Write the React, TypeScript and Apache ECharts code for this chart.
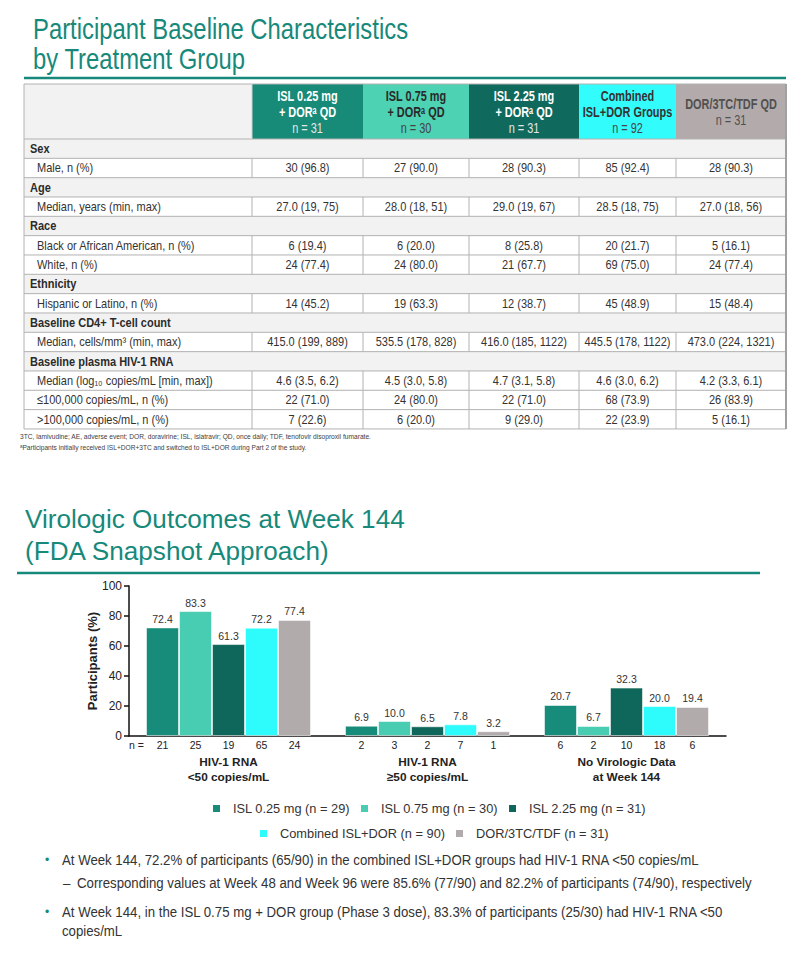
import React, { useEffect, useRef } from "react";
import * as echarts from "echarts";

const FF = "Liberation Sans, Arial, Helvetica, sans-serif";
const TEAL = "#17897a";
const TXT = "#333333";

// ---------- Titles / notes ----------
const title1 = ["Participant Baseline Characteristics", "by Treatment Group"];
const title2 = ["Virologic Outcomes at Week 144", "(FDA Snapshot Approach)"];
const footnotes = [
  "3TC, lamivudine; AE, adverse event; DOR, doravirine; ISL, islatravir; QD, once daily; TDF, tenofovir disoproxil fumarate.",
  "ᵃParticipants initially received ISL+DOR+3TC and switched to ISL+DOR during Part 2 of the study.",
];
const bullet1 = "At Week 144, 72.2% of participants (65/90) in the combined ISL+DOR groups had HIV-1 RNA <50 copies/mL";
const subBullet1 = "Corresponding values at Week 48 and Week 96 were 85.6% (77/90) and 82.2% of participants (74/90), respectively";
const bullet2 = ["At Week 144, in the ISL 0.75 mg + DOR group (Phase 3 dose), 83.3% of participants (25/30) had HIV-1 RNA <50", "copies/mL"];

// ---------- Table data ----------
const headerISL025 = ["ISL 0.25 mg", "+ DORᵃ QD", "n = 31"];
const headerISL075 = ["ISL 0.75 mg", "+ DORᵃ QD", "n = 30"];
const headerISL225 = ["ISL 2.25 mg", "+ DORᵃ QD", "n = 31"];
const headerCombined = ["Combined", "ISL+DOR Groups", "n = 92"];
const headerDOR = ["DOR/3TC/TDF QD", "n = 31"];

const maleN = ["30 (96.8)", "27 (90.0)", "28 (90.3)", "85 (92.4)", "28 (90.3)"];
const ageMedian = ["27.0 (19, 75)", "28.0 (18, 51)", "29.0 (19, 67)", "28.5 (18, 75)", "27.0 (18, 56)"];
const raceBlack = ["6 (19.4)", "6 (20.0)", "8 (25.8)", "20 (21.7)", "5 (16.1)"];
const raceWhite = ["24 (77.4)", "24 (80.0)", "21 (67.7)", "69 (75.0)", "24 (77.4)"];
const hispanic = ["14 (45.2)", "19 (63.3)", "12 (38.7)", "45 (48.9)", "15 (48.4)"];
const cd4Median = ["415.0 (199, 889)", "535.5 (178, 828)", "416.0 (185, 1122)", "445.5 (178, 1122)", "473.0 (224, 1321)"];
const rnaMedian = ["4.6 (3.5, 6.2)", "4.5 (3.0, 5.8)", "4.7 (3.1, 5.8)", "4.6 (3.0, 6.2)", "4.2 (3.3, 6.1)"];
const rnaLow = ["22 (71.0)", "24 (80.0)", "22 (71.0)", "68 (73.9)", "26 (83.9)"];
const rnaHigh = ["7 (22.6)", "6 (20.0)", "9 (29.0)", "22 (23.9)", "5 (16.1)"];

// ---------- Chart data ----------
const categories = ["HIV-1 RNA\n<50 copies/mL", "HIV-1 RNA\n≥50 copies/mL", "No Virologic Data\nat Week 144"];
const seriesNames = [
  "ISL 0.25 mg (n = 29)",
  "ISL 0.75 mg (n = 30)",
  "ISL 2.25 mg (n = 31)",
  "Combined ISL+DOR (n = 90)",
  "DOR/3TC/TDF (n = 31)",
];
const isl025 = [72.4, 6.9, 20.7];
const isl075 = [83.3, 10.0, 6.7];
const isl225 = [61.3, 6.5, 32.3];
const combined = [72.2, 7.8, 20.0];
const dor = [77.4, 3.2, 19.4];
const isl025N = [21, 2, 6];
const isl075N = [25, 3, 2];
const isl225N = [19, 2, 10];
const combinedN = [65, 7, 18];
const dorN = [24, 1, 6];
const yMin = 0;
const yMax = 100;
const yStep = 20;

const barColors = ["#178c7a", "#48cdb2", "#0f665a", "#2efcfc", "#b2abab"];
const headerFills = ["#178a78", "#4dd2b3", "#0f6a5d", "#33fcfc", "#b3abab"];
const headerBoldColors = ["#ffffff", "#2a2a2a", "#ffffff", "#333333", "#505050"];
const headerNColors = ["#e6e6e6", "#444444", "#e6e6e6", "#444444", "#505050"];

export default function App() {
  const ref = useRef<HTMLDivElement>(null);

  useEffect(() => {
    if (!ref.current) return;
    const chart = echarts.init(ref.current, undefined, { renderer: "svg" });

    const canvas = document.createElement("canvas");
    const ctx = canvas.getContext("2d")!;
    const fontStr = (size: number, weight = "normal") => `${weight} ${size}px ${FF}`;
    const fit = (text: string, font: string, w: number) => {
      ctx.font = font;
      const m = ctx.measureText(text).width;
      return m > 0 ? w / m : 1;
    };

    const els: any[] = [];
    const T = (text: string, x: number, y: number, size: number, o: any = {}) => {
      const font = fontStr(size, o.weight || "normal");
      els.push({
        type: "text",
        x,
        y,
        scaleX: o.sx ?? 1,
        silent: true,
        z: 10,
        style: {
          text,
          font,
          fill: o.color || TXT,
          textAlign: o.align || "left",
          textVerticalAlign: "middle",
          align: o.align || "left",
          verticalAlign: "middle",
        },
      });
    };
    const R = (x: number, y: number, w: number, h: number, fill: string) => {
      els.push({
        type: "rect",
        silent: true,
        z: 1,
        shape: { x, y, width: w, height: h },
        style: { fill },
      });
    };
    const L = (x1: number, y1: number, x2: number, y2: number, stroke: string, lw = 1) => {
      els.push({
        type: "line",
        silent: true,
        z: 5,
        shape: { x1, y1, x2, y2 },
        style: { stroke, lineWidth: lw },
      });
    };

    // ---- Top title ----
    const t1sx = fit(title1[0], fontStr(30), 375);
    T(title1[0], 33, 28, 30, { color: TEAL, sx: t1sx });
    T(title1[1], 33, 58, 30, { color: TEAL, sx: t1sx });
    L(24, 78, 786, 78, TEAL, 2.5);

    // ---- Table ----
    const colX = [24, 252, 363, 469, 579, 676, 786];
    const HT = 84;
    const HB = 139;
    const RH = 19.33;
    const LINE = "#b2b2b2";
    const headers = [headerISL025, headerISL075, headerISL225, headerCombined, headerDOR];
    R(colX[0], HT, colX[1] - colX[0], HB - HT, "#f2f2f2");
    headers.forEach((h, i) => {
      const x0 = colX[i + 1];
      const w = colX[i + 2] - x0;
      R(x0, HT, w, HB - HT, headerFills[i]);
      const cx = x0 + w / 2;
      const ys = h.length === 3 ? [97, 113, 129] : [105, 121];
      h.forEach((line, k) => {
        const isN = k === h.length - 1;
        T(line, cx, ys[k], 14, {
          weight: isN ? "normal" : "bold",
          color: isN ? headerNColors[i] : headerBoldColors[i],
          align: "center",
          sx: 0.78,
        });
      });
    });

    const tableRows: any[] = [
      { section: "Sex" },
      { label: "Male, n (%)", values: maleN },
      { section: "Age" },
      { label: "Median, years (min, max)", values: ageMedian },
      { section: "Race" },
      { label: "Black or African American, n (%)", values: raceBlack },
      { label: "White, n (%)", values: raceWhite },
      { section: "Ethnicity" },
      { label: "Hispanic or Latino, n (%)", values: hispanic },
      { section: "Baseline CD4+ T-cell count" },
      { label: "Median, cells/mm³ (min, max)", values: cd4Median },
      { section: "Baseline plasma HIV-1 RNA" },
      { label: "Median (log₁₀ copies/mL [min, max])", values: rnaMedian },
      { label: "≤100,000 copies/mL, n (%)", values: rnaLow },
      { label: ">100,000 copies/mL, n (%)", values: rnaHigh },
    ];
    const CS = 0.815;
    const CF = 13.5;
    tableRows.forEach((row, i) => {
      const y0 = HB + i * RH;
      const cy = y0 + RH / 2;
      if (row.section) {
        R(colX[0], y0, colX[6] - colX[0], RH, "#f2f2f2");
        T(row.section, 30, cy, CF, { weight: "bold", sx: CS, color: "#2b2b2b" });
      } else {
        R(colX[0], y0, colX[6] - colX[0], RH, "#ffffff");
        T(row.label, 37, cy, CF, { sx: CS });
        row.values.forEach((v: string, c: number) => {
          T(v, (colX[c + 1] + colX[c + 2]) / 2, cy, CF, { align: "center", sx: CS });
        });
        for (let c = 1; c <= 5; c++) L(colX[c], y0, colX[c], y0 + RH, LINE, 1);
      }
      L(colX[0], y0, colX[6], y0, LINE, 1);
    });
    const TB = HB + tableRows.length * RH;
    L(colX[0], TB, colX[6], TB, LINE, 1);
    L(colX[0], HT, colX[6], HT, LINE, 1);
    L(colX[0], HT, colX[0], TB, LINE, 1);
    L(colX[1], HT, colX[1], HB, "#d0d0d0", 1);
    L(colX[6], HT, colX[6], TB, "#a0a0a0", 2);

    // footnotes
    T(footnotes[0], 20, 437, 7.5, { sx: fit(footnotes[0], fontStr(7.5), 352), color: "#404040" });
    T(footnotes[1], 20, 447, 7.5, { sx: fit(footnotes[1], fontStr(7.5), 287), color: "#404040" });

    // ---- Bottom title ----
    const t2sx = fit(title2[0], fontStr(26.5), 380);
    T(title2[0], 25, 519, 26.5, { color: TEAL, sx: t2sx });
    T(title2[1], 25, 551, 26.5, { color: TEAL, sx: t2sx });
    L(17, 573, 760, 573, TEAL, 2.5);

    // n = label
    T("n =", 129, 745, 10.5, { color: "#222" });

    // ---- Bullets ----
    const BF = 15;
    const bsx = fit(bullet1, fontStr(BF), 638);
    T("•", 47, 860, 12, { color: TEAL, align: "center" });
    T(bullet1, 62, 860, BF, { sx: bsx });
    T("–", 63, 883, BF, { sx: bsx });
    T(subBullet1, 77, 883, BF, { sx: bsx });
    T("•", 47, 912, 12, { color: TEAL, align: "center" });
    T(bullet2[0], 62, 912, BF, { sx: bsx });
    T(bullet2[1], 62, 931, BF, { sx: bsx });

    // ---- Chart series ----
    const values = [isl025, isl075, isl225, combined, dor];
    const nVals = [isl025N, isl075N, isl225N, combinedN, dorN];
    const series: any[] = [];
    seriesNames.forEach((name, i) => {
      series.push({
        name: "n-" + i,
        type: "bar",
        stack: "s" + i,
        data: nVals[i].map(() => 0),
        barWidth: 33,
        barGap: "0%",
        silent: true,
        itemStyle: { color: "rgba(0,0,0,0)" },
        label: {
          show: true,
          position: "bottom",
          distance: 3,
          formatter: (p: any) => String(nVals[i][p.dataIndex]),
          fontSize: 10.5,
          fontFamily: FF,
          color: "#222",
        },
      });
      series.push({
        name,
        type: "bar",
        stack: "s" + i,
        data: values[i],
        barWidth: 33,
        barGap: "0%",
        itemStyle: { color: barColors[i], borderColor: "rgba(255,255,255,0.55)", borderWidth: 1 },
        label: {
          show: true,
          position: "top",
          distance: 3,
          formatter: (p: any) => Number(p.value).toFixed(1),
          fontSize: 10.5,
          fontFamily: FF,
          color: "#333",
        },
      });
    });

    const legendBase = {
      orient: "horizontal",
      itemWidth: 7,
      itemHeight: 7,
      itemGap: 11,
      icon: "rect",
      padding: 0,
      selectedMode: false,
      itemStyle: { borderWidth: 0 },
      textStyle: { fontSize: 12.8, color: "#333", fontFamily: FF, padding: [0, 0, 0, 8] },
    };

    chart.setOption({
      animation: false,
      backgroundColor: "#ffffff",
      textStyle: { fontFamily: FF },
      grid: { left: 129, top: 586, width: 597, height: 150, containLabel: false, outerBoundsMode: "none" },
      legend: [
        { ...legendBase, data: seriesNames.slice(0, 3), left: 213, top: 802 },
        { ...legendBase, data: seriesNames.slice(3), left: 260, top: 827 },
      ],
      xAxis: {
        type: "category",
        data: categories,
        axisLine: { lineStyle: { color: "#111", width: 1.5 } },
        axisTick: { show: false },
        axisLabel: {
          interval: 0,
          fontWeight: "bold",
          fontSize: 11.8,
          color: "#222",
          margin: 19,
          lineHeight: 14.5,
          fontFamily: FF,
        },
      },
      yAxis: {
        type: "value",
        min: yMin,
        max: yMax,
        interval: yStep,
        name: "Participants (%)",
        nameLocation: "middle",
        nameGap: 30,
        nameMoveOverlap: false,
        nameTextStyle: { fontWeight: "bold", fontSize: 13, color: "#222", fontFamily: FF },
        axisLine: { show: true, lineStyle: { color: "#111", width: 1.5 } },
        axisTick: { show: true, length: 5, lineStyle: { color: "#111", width: 1.5 } },
        splitLine: { show: false },
        axisLabel: { fontSize: 12, color: "#222", margin: 7, fontFamily: FF },
      },
      series,
      graphic: { elements: els },
    });

    return () => chart.dispose();
  }, []);

  return (
    <div
      ref={ref}
      style={{ position: "fixed", left: 0, top: 0, width: 798, height: 956, background: "#fff" }}
    />
  );
}
